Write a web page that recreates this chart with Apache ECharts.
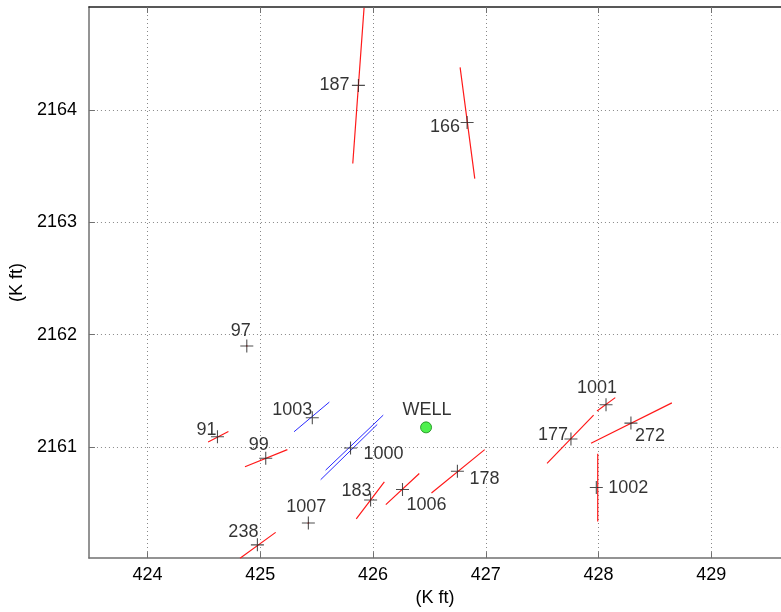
<!DOCTYPE html>
<html><head><meta charset="utf-8">
<script src="https://cdn.jsdelivr.net/npm/echarts@6/dist/echarts.min.js"></script>
<style>html,body{margin:0;padding:0;background:#fff}#c{width:781px;height:612px}</style>
</head><body><div id="c"></div>
<script>
// Points (name, x, y) in K ft
const pointNames = ['187','166','97','91','99','238','1003','1000','183','1006','178','1007','1001','177','272','1002'];
const pointX = [425.87,426.834,424.88,424.62,425.048,424.974,425.461,425.80,425.978,426.261,426.748,425.426,428.066,427.755,428.287,427.98];
const pointY = [2164.22,2163.89,2161.90,2161.092,2160.90,2160.129,2161.26,2160.992,2160.528,2160.622,2160.785,2160.324,2161.376,2161.072,2161.213,2160.64];
// Well location
const wellName = 'WELL';
const wellX = 426.47;
const wellY = 2161.175;
// Red segments [x1,y1,x2,y2]
const redSegments = [
  [425.82,2163.525,425.92,2164.91],
  [426.772,2164.38,426.902,2163.39],
  [424.537,2161.045,424.717,2161.139],
  [424.864,2160.824,425.24,2160.977],
  [424.82,2160.01,425.136,2160.24],
  [425.851,2160.36,426.10,2160.69],
  [426.113,2160.487,426.41,2160.764],
  [426.518,2160.59,426.99,2160.977],
  [425.42,2160.32,425.432,2160.328],
  [424.875,2161.897,424.885,2161.903],
  [427.986,2161.32,428.148,2161.44],
  [427.543,2160.855,427.956,2161.284],
  [427.933,2161.033,428.65,2161.393],
  [427.9925,2160.94,427.9925,2160.337]
];
// Blue segments [x1,y1,x2,y2]
const blueSegments = [
  [425.299,2161.136,425.612,2161.40],
  [425.579,2160.794,426.090,2161.284],
  [425.535,2160.709,426.037,2161.201]
];
const xTicks = [424,425,426,427,428,429];
const yTicks = [2161,2162,2163,2164];
const axisTitle = '(K ft)';

// label offsets (style only)
const labelOffsets = {
  '187':[-24,0],'166':[-22,5],'97':[-6,-15],'91':[-11,-7],'99':[-7,-13],'238':[-14,-13],
  '1003':[-20,-8],'1000':[33,6],'183':[-14,-9],'1006':[24,16],'178':[27,8],'1007':[-2,-16],
  '1001':[-9,-17],'177':[-18,-4],'272':[19,13],'1002':[32,1]
};

function segData(segs){
  const d=[];
  segs.forEach((s,i)=>{ if(i) d.push(['-','-']); d.push([s[0],s[1]]); d.push([s[2],s[3]]); });
  return d;
}

const crossPath = 'path://M0,5.5h12v1h-12zM5.5,0h1v12h-1z';
const font = 'Liberation Sans, Arial, sans-serif';
const labelBase = {fontSize:18,color:'#000',fontFamily:font,textBorderWidth:0};

const chart = echarts.init(document.getElementById('c'));
const xMin = 423.48, xMax = 429.618, yMin = 2160.011, yMax = 2164.918;
chart.setOption({
  animation:false,
  backgroundColor:'#fff',
  grid:{left:88,right:0,top:7,bottom:51},
  xAxis:[{
    type:'value',min:xMin,max:xMax,position:'bottom',
    name:axisTitle,nameLocation:'middle',nameGap:30,
    nameTextStyle:{fontSize:18,color:'#000',fontFamily:font},
    axisLine:{show:true,lineStyle:{color:'#707070',width:1.5}},
    axisTick:{show:true,inside:true,length:6,customValues:xTicks,lineStyle:{color:'#707070'}},
    axisLabel:{show:true,customValues:xTicks,fontSize:18,color:'#000',fontFamily:font,margin:8,formatter:v=>String(v)},
    splitLine:{show:true,lineStyle:{type:[1,3],color:'#888'}},
    customValues:xTicks
  },{
    type:'value',min:xMin,max:xMax,position:'top',
    axisLine:{show:true,lineStyle:{color:'#222',width:1.5}},
    axisTick:{show:true,inside:true,length:6,customValues:xTicks,lineStyle:{color:'#707070'}},
    axisLabel:{show:false},splitLine:{show:false}
  }],
  yAxis:[{
    type:'value',min:yMin,max:yMax,
    name:axisTitle,nameLocation:'middle',nameGap:58,nameRotate:90,
    nameTextStyle:{fontSize:18,color:'#000',fontFamily:font},
    axisLine:{show:true,lineStyle:{color:'#707070',width:1.5}},
    axisTick:{show:true,inside:true,length:6,customValues:yTicks,lineStyle:{color:'#707070'}},
    axisLabel:{show:true,customValues:yTicks,fontSize:18,color:'#000',fontFamily:font,margin:12,formatter:v=>String(v)},
    splitLine:{show:true,lineStyle:{type:[1,3],color:'#888'}},
    customValues:yTicks
  }],
  series:[
    {type:'line',data:segData(redSegments),connectNulls:false,symbol:'none',
     lineStyle:{color:'#ff1a1a',width:1.2},silent:true,z:2},
    {type:'line',data:segData(blueSegments),connectNulls:false,symbol:'none',
     lineStyle:{color:'#2a2aff',width:1},silent:true,z:2},
    {type:'scatter',symbol:crossPath,symbolSize:13,
     itemStyle:{color:'#222'},z:3,
     data:pointNames.map((n,i)=>({name:n,value:[pointX[i],pointY[i]],
       label:Object.assign({show:true,position:'inside',offset:labelOffsets[n],formatter:n},labelBase)}))},
    {type:'scatter',symbol:'circle',symbolSize:11,
     itemStyle:{color:'#22ee22',borderColor:'#118811',borderWidth:1},z:4,
     data:[{name:wellName,value:[wellX,wellY],
       label:Object.assign({show:true,position:'inside',offset:[1,-17],formatter:wellName},labelBase)}]}
  ]
});
</script></body></html>
